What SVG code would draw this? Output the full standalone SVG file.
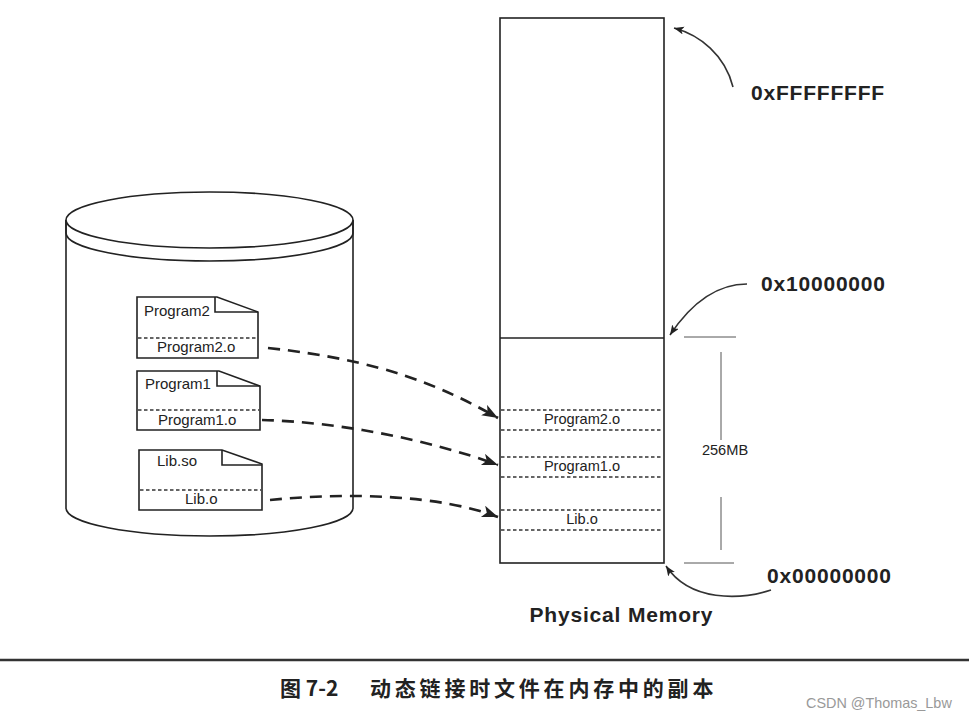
<svg xmlns="http://www.w3.org/2000/svg" width="969" height="720" viewBox="0 0 969 720">
<defs>
<style>
.ln{fill:none;stroke:#222;stroke-width:1.6}
.wf{fill:#fff;stroke:#222;stroke-width:1.6}
.dot{fill:none;stroke:#333;stroke-width:1.3;stroke-dasharray:3.5 2.5}
.dash{fill:none;stroke:#222;stroke-width:2.6;stroke-dasharray:12 8}
.arc{fill:none;stroke:#333;stroke-width:1.6}
.t{font-family:"Liberation Sans",Arial,sans-serif;font-size:15px;fill:#222}
.tm{font-family:"Liberation Sans",Arial,sans-serif;font-size:14.6px;fill:#222;text-anchor:middle}
.hx{font-family:"Liberation Sans",Arial,sans-serif;font-size:21px;font-weight:bold;fill:#222;letter-spacing:0.8px}
</style>
<marker id="big" markerUnits="userSpaceOnUse" markerWidth="18" markerHeight="14" refX="16" refY="6" orient="auto">
<path d="M0,0 L16,6 L0,12 L4,6 Z" fill="#222"/>
</marker>
<marker id="small" markerUnits="userSpaceOnUse" markerWidth="12" markerHeight="10" refX="10" refY="4" orient="auto">
<path d="M0,0 L10,4 L0,8 L2.5,4 Z" fill="#222"/>
</marker>
</defs>
<rect width="969" height="720" fill="#fff"/>

<g id="disk">
<path class="wf" d="M66,220 L66,508 A143.5,28 0 0,0 353,508 L353,220"/>
<path class="ln" d="M66,220 L66,233 A143.5,28 0 0,0 353,233 L353,220"/>
<ellipse class="wf" cx="209.5" cy="220" rx="143.5" ry="28"/>
</g>

<g id="doc-program2">
<path class="wf" d="M137,297 L217,297 L258,312 L258,358 L137,358 Z"/>
<path class="ln" d="M215,297 L215,312 L258,312"/>
<line class="dot" x1="138" y1="338" x2="257" y2="338"/>
<text class="t" x="144" y="316">Program2</text>
<text class="t" x="157" y="352">Program2.o</text>
</g>

<g id="doc-program1">
<path class="wf" d="M137,371 L219,371 L260,386 L260,430 L137,430 Z"/>
<path class="ln" d="M217,371 L217,386 L260,386"/>
<line class="dot" x1="138" y1="410" x2="259" y2="410"/>
<text class="t" x="145" y="389">Program1</text>
<text class="t" x="158" y="425">Program1.o</text>
</g>

<g id="doc-lib">
<path class="wf" d="M139,450 L222,450 L262,464 L262,510 L139,510 Z"/>
<path class="ln" d="M222,450 L222,465 L262,465"/>
<line class="dot" x1="140" y1="490" x2="261" y2="490"/>
<text class="t" x="157" y="466">Lib.so</text>
<text class="t" x="185" y="504">Lib.o</text>
</g>

<g id="memory">
<rect class="wf" x="500" y="18" width="164" height="545"/>
<line class="ln" x1="500" y1="338" x2="664" y2="338"/>
<line class="dot" x1="501" y1="410" x2="663" y2="410"/>
<line class="dot" x1="501" y1="430" x2="663" y2="430"/>
<line class="dot" x1="501" y1="457" x2="663" y2="457"/>
<line class="dot" x1="501" y1="477" x2="663" y2="477"/>
<line class="dot" x1="501" y1="510" x2="663" y2="510"/>
<line class="dot" x1="501" y1="530" x2="663" y2="530"/>
<text class="tm" x="582" y="424">Program2.o</text>
<text class="tm" x="582" y="471">Program1.o</text>
<text class="tm" x="582" y="524">Lib.o</text>
<text x="621" y="622" font-family="Liberation Sans, Arial, sans-serif" font-size="21" font-weight="bold" fill="#222" text-anchor="middle" textLength="183" lengthAdjust="spacing">Physical Memory</text>
</g>

<g id="size">
<line x1="684" y1="337" x2="736" y2="337" stroke="#555" stroke-width="1"/>
<line x1="684" y1="563" x2="734" y2="563" stroke="#555" stroke-width="1"/>
<line x1="721" y1="352" x2="721" y2="440" stroke="#555" stroke-width="1"/>
<line x1="721" y1="497" x2="721" y2="550" stroke="#555" stroke-width="1"/>
<text class="tm" x="725" y="455">256MB</text>
</g>

<g id="addresses">
<text class="hx" x="751" y="100">0xFFFFFFFF</text>
<text class="hx" x="761" y="291">0x10000000</text>
<text class="hx" x="767" y="583">0x00000000</text>
</g>

<g id="connectors">
<path class="dash" d="M268,348 C380,360 440,385 498,418" marker-end="url(#big)"/>
<path class="dash" d="M262,420 C340,422 430,440 498,465" marker-end="url(#big)"/>
<path class="dash" d="M270,500 C350,492 440,495 498,517" marker-end="url(#big)"/>
<path class="arc" d="M733,87 C725,55 700,35 674,28" marker-end="url(#small)"/>
<path class="arc" d="M747,284 C715,284 690,305 670,335" marker-end="url(#small)"/>
<path class="arc" d="M771,590 C740,600 690,602 666,566" marker-end="url(#small)"/>
</g>

<line x1="0" y1="660" x2="969" y2="660" stroke="#333" stroke-width="2.5"/>
<text x="280" y="696" font-family="Noto Sans CJK SC, sans-serif" font-size="21" font-weight="bold" fill="#222">图 7-2</text>
<text x="370" y="696" font-family="Noto Sans CJK SC, sans-serif" font-size="21" font-weight="bold" fill="#222" letter-spacing="3.8">动态链接时文件在内存中的副本</text>
<text x="806" y="708" font-family="Liberation Sans, Arial, sans-serif" font-size="14.4" fill="#999">CSDN @Thomas_Lbw</text>
</svg>
